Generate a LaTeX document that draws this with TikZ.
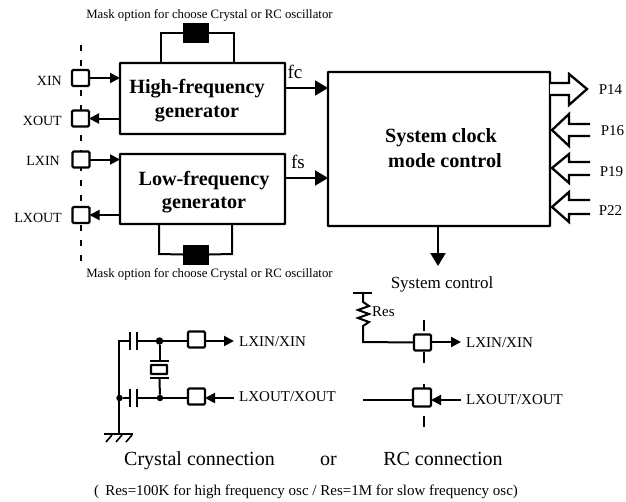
\documentclass[tikz,border=0pt]{standalone}
\usepackage{fontspec}
\setmainfont{Liberation Serif}
\usetikzlibrary{arrows.meta,calc}
\tikzset{
  ln/.style={line width=2pt,line join=miter},
  arr/.style={ln,-{Triangle[length=10pt,width=10pt]}},
  bigarr/.style={ln,-{Triangle[length=13pt,width=15pt]}},
  blockbox/.style={draw,line width=2.3pt,fill=white,inner sep=0pt,outer sep=0pt,rounded corners=0.5pt},
  pad/.style={draw,line width=2.2pt,fill=white,minimum width=17pt,minimum height=16pt,inner sep=0pt,outer sep=0pt,rounded corners=1.2pt},
  maskbox/.style={fill=black,draw=none,minimum width=26pt,minimum height=20pt,inner sep=0pt,outer sep=0pt},
  jdot/.style={circle,fill=black,draw=none,minimum size=7.5pt,inner sep=0pt},
  dashline/.style={line width=2.2pt,dash pattern=on 6pt off 9pt},
  lab/.style={font=\fontsize{14}{16}\selectfont,inner sep=0pt,anchor=base},
  masktxt/.style={font=\fontsize{12.8}{15}\selectfont,inner sep=0pt,anchor=base},
  lablg/.style={font=\fontsize{15}{17}\selectfont,inner sep=0pt,anchor=base},
  titletxt/.style={font=\fontsize{20.2}{23}\selectfont\bfseries,inner sep=0pt,anchor=base},
  captxt/.style={font=\fontsize{20}{23}\selectfont,inner sep=0pt,anchor=base},
  hollow/.style={line width=2.3pt,line join=miter,fill=white}
}
\begin{document}
\begin{tikzpicture}[x=1pt,y=-1pt]
\useasboundingbox (0,0) rectangle (626,501);
% dashed pad lines
\coordinate (dlt) at (81,45); \coordinate (dlb) at (81,265);
\draw[dashline] (dlt) -- (dlb);
\coordinate (drt) at (424,320); \coordinate (drb) at (424,432);
\draw[line width=2.2pt,dash pattern=on 11pt off 21pt] (drt) -- (drb);
% main blocks
\node[blockbox,minimum width=165pt,minimum height=71pt] (hf) at (202.5,98.5) {};
\node[blockbox,minimum width=165pt,minimum height=70pt] (lf) at (202.5,189) {};
\node[blockbox,minimum width=222pt,minimum height=154pt] (sys) at (439,149) {};
\node[titletxt] (hft1) at (197,93) {High-frequency};
\node[titletxt] (hft2) at (197,117) {generator};
\node[titletxt] (lft1) at (204,185) {Low-frequency};
\node[titletxt] (lft2) at (204,208) {generator};
\node[titletxt] (syst1) at (441,142) {System clock};
\node[titletxt] (syst2) at (445,167) {mode control};
% pads
\node[pad] (xin) at (80.5,78) {};
\node[pad] (xout) at (80.5,118.5) {};
\node[pad] (lxin) at (81,159.5) {};
\node[pad] (lxout) at (81,215) {};
\node[lab,anchor=base east] (lxinl) at (62,85) {XIN};
\node[lab,anchor=base east] (xoutl) at (62,125) {XOUT};
\node[lab,anchor=base east] (lxinlb) at (60,165) {LXIN};
\node[lab,anchor=base east] (lxoutl) at (62,222) {LXOUT};
\draw[arr] (xin.east) -- (xin.east -| hf.west);
\draw[arr] (xout.east -| hf.west) -- (xout.east);
\draw[arr] (lxin.east) -- (lxin.east -| lf.west);
\draw[arr] (lxout.east -| lf.west) -- (lxout.east);
% mask loops
\node[maskbox] (mt) at (196,33) {};
\node[maskbox] (mb) at (196,254.5) {};
\coordinate (tl) at (161,33); \coordinate (tr) at (234,33);
\coordinate (bl) at (159,254); \coordinate (br) at (232,254);
\draw[ln] (tl |- hf.north) -- (tl) -- (mt.west);
\draw[ln] (tr |- hf.north) -- (tr) -- (mt.east);
\draw[ln] (bl |- lf.south) -- (bl) -- (mb.west);
\draw[ln] (br |- lf.south) -- (br) -- (mb.east);
\node[masktxt] (mtt) at (209.5,18) {Mask option for choose Crystal or RC oscillator};
\node[masktxt] (mbt) at (209.5,277) {Mask option for choose Crystal or RC oscillator};
% fc / fs
\coordinate (fco) at (285,88); \coordinate (fso) at (285,178);
\draw[bigarr] (fco) -- (fco -| sys.west);
\draw[bigarr] (fso) -- (fso -| sys.west);
\node[captxt,font=\fontsize{19}{22}\selectfont] (fcl) at (295,78) {fc};
\node[captxt,font=\fontsize{19}{22}\selectfont] (fsl) at (298,168) {fs};
% block arrows
\coordinate (p14) at (550,89);
\draw[hollow] (p14)++(0,-6) -- ++(19,0) -- ++(0,-9) -- ++(18,15) -- ++(-18,16) -- ++(0,-10) -- ++(-19,0);
\coordinate (p16) at (552,130);
\draw[hollow] (p16)++(38,-6) -- ++(-21,0) -- ++(0,-10) -- (p16) -- ++(17,16) -- ++(0,-10) -- ++(21,0);
\coordinate (p19) at (552,168);
\draw[hollow] (p19)++(38,-6) -- ++(-21,0) -- ++(0,-8) -- (p19) -- ++(17,15) -- ++(0,-8) -- ++(21,0);
\coordinate (p22) at (552,207);
\draw[hollow] (p22)++(38,-7) -- ++(-21,0) -- ++(0,-8) -- (p22) -- ++(17,15) -- ++(0,-8) -- ++(21,0);
\node[lablg] (p14l) at (610.5,94) {P14};
\node[lablg] (p16l) at (612.5,135) {P16};
\node[lablg] (p19l) at (611.5,176) {P19};
\node[lablg] (p22l) at (610.5,215) {P22};
% system control
\coordinate (sysd) at (438,266);
\draw[ln,-{Triangle[length=13pt,width=15pt]}] (sysd |- sys.south) -- (sysd);
\node[lab,font=\fontsize{17}{19}\selectfont] (sysl) at (442,288) {System control};
% crystal connection
\node[pad] (cp1) at (196.5,339.5) {};
\node[pad] (cp2) at (196.5,396.5) {};
\coordinate (c1a) at (130,341); \coordinate (c1b) at (137,341);
\coordinate (c2a) at (130,398); \coordinate (c2b) at (137,398);
\node[jdot] (n1) at (159.5,341) {};
\node[jdot,minimum size=6.5pt] (n2) at (160,398) {};
\node[jdot,minimum size=6.5pt] (n3) at (119.5,398) {};
\coordinate (gnd) at (119,434);
\coordinate (ctop) at (119,341);
\draw[ln] (gnd) -- (ctop) -- (c1a);
\draw[ln] (n3) -- (c2a);
\draw[ln] (c1b) -- (n1) -- (n1 -| cp1.west);
\draw[ln] (c2b) -- (n2) -- (n2 -| cp2.west);
\foreach \c in {c1a,c1b,c2a,c2b}{\draw[line width=2.4pt] ($(\c)+(0,-9)$) -- ($(\c)+(0,9)$);}
\coordinate (xt) at (159.5,361); \coordinate (xb) at (159.5,378);
\draw[ln] (n1) -- (xt); \draw[ln] (xb) -- (n2);
\draw[line width=2.2pt] (150,361) -- (169,361) (150,378) -- (169,378);
\draw[line width=2.2pt,rounded corners=0.5pt] (151,365) rectangle (167,374);
\draw[ln] (104,434) -- (133,434);
\foreach \x in {112,122,132}{\draw[line width=1.6pt] (\x,435) -- (\x-6,442);}
\coordinate (co1) at (234,341); \coordinate (co2) at (234,398);
\draw[arr] (cp1.east |- co1) -- (co1);
\draw[arr] (co2) -- (cp2.east |- co2);
\node[lablg,anchor=base west] (cl1) at (239,346) {LXIN/XIN};
\node[lablg,anchor=base west] (cl2) at (239,401) {LXOUT/XOUT};
% rc connection
\node[pad] (rp1) at (422.5,342.5) {};
\node[pad,minimum width=18pt,minimum height=18pt] (rp2) at (422,397.5) {};
\draw[ln] (353,293) -- (372,293);
\draw[ln] (363,293) -- (363,302) -- (369,306) -- (358,310) -- (369,314) -- (358,318) -- (369,322) -- (363,326) -- (363,342) -- (rp1.west);
\coordinate (ro1) at (461,342); \coordinate (ro2) at (461,400); \coordinate (rl2) at (363,400);
\draw[arr] (rp1.east |- ro1) -- (ro1);
\draw[arr] (ro2) -- (rp2.east |- ro2);
\draw[ln] (rl2) -- (rl2 -| rp2.west);
\node[lablg,anchor=base west] (resl) at (372,316) {Res};
\node[lablg,anchor=base west] (rl1t) at (466,347) {LXIN/XIN};
\node[lablg,anchor=base west] (rl2t) at (466,404) {LXOUT/XOUT};
% captions
\node[captxt] (ccap) at (199.5,465) {Crystal connection};
\node[captxt] (orcap) at (328.5,465) {or};
\node[captxt] (rccap) at (443,465) {RC connection};
\node[lablg] (note) at (306,495) {( \,Res=100K for high frequency osc / Res=1M for slow frequency osc)};
\end{tikzpicture}
\end{document}
